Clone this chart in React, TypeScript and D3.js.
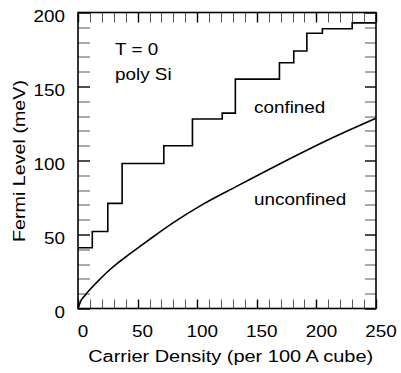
import { useEffect, useRef } from 'react';
import * as d3 from 'd3';

// carrier density (per 100 A cube) where each confined level starts
const stepDensity = [0, 12, 25, 37, 72, 96, 121, 132, 169, 181, 192, 205, 230, 250];
// confined Fermi level (meV) for each step
const stepLevel = [41, 52, 71, 98, 110, 128, 132, 155, 166, 174, 186, 189, 193, 193];

// unconfined curve
const freeDensity = [0, 2, 6, 12, 18, 25, 33, 42, 52, 64, 80, 105, 133, 170, 210, 250];
const freeLevel = [0, 4.5, 9, 14.5, 19.5, 25, 30.5, 36, 42, 49, 58, 70.5, 82.5, 98, 114, 128.5];

const xTicks = [0, 50, 100, 150, 200, 250];
const yTicks = [0, 50, 100, 150, 200];

const width = 401;
const height = 373;
const margin = { top: 12.5, right: 25, bottom: 64.5, left: 78 };
const font = 'Liberation Sans, Arial, Helvetica, sans-serif';
const stretch = 1.18;

export default function App() {
  const svgRef = useRef<SVGSVGElement>(null);

  useEffect(() => {
    if (!svgRef.current) return;
    const svg = d3.select(svgRef.current);
    svg.selectAll('*').remove();

    const chartWidth = width - margin.left - margin.right;
    const chartHeight = height - margin.top - margin.bottom;

    const g = svg
      .append('g')
      .attr('transform', `translate(${margin.left},${margin.top})`);

    const xScale = d3.scaleLinear().domain([0, 250]).range([0, chartWidth]);
    const yScale = d3.scaleLinear().domain([0, 200]).range([chartHeight, 0]);

    // minor / major ticks on all four sides
    const xMinor = d3.range(0, 251, 10);
    const yMinor = d3.range(0, 201, 10);
    const tickStyle = (v: number) => (v % 50 === 0 ? ['#000', 1.4] : ['#555', 1]);

    xMinor.forEach((v) => {
      const [c, w] = tickStyle(v);
      const x = Math.round(xScale(v)) + 0.5;
      g.append('line').attr('x1', x).attr('x2', x).attr('y1', chartHeight).attr('y2', chartHeight - 9)
        .attr('stroke', c).attr('stroke-width', w);
      g.append('line').attr('x1', x).attr('x2', x).attr('y1', 0).attr('y2', 10)
        .attr('stroke', c).attr('stroke-width', w);
    });
    yMinor.forEach((v) => {
      const [c, w] = tickStyle(v);
      const y = Math.round(yScale(v)) + 0.5;
      g.append('line').attr('x1', 0).attr('x2', 12).attr('y1', y).attr('y2', y)
        .attr('stroke', c).attr('stroke-width', w);
      g.append('line').attr('x1', chartWidth - 11).attr('x2', chartWidth).attr('y1', y).attr('y2', y)
        .attr('stroke', c).attr('stroke-width', w);
    });

    // frame
    g.append('rect')
      .attr('x', 0)
      .attr('y', 0)
      .attr('width', chartWidth)
      .attr('height', chartHeight)
      .attr('fill', 'none')
      .attr('stroke', '#000')
      .attr('stroke-width', 1.6);

    // confined staircase
    const steps = stepDensity.map((n, i) => [n, stepLevel[i]] as [number, number]);
    const stepLine = d3
      .line<[number, number]>()
      .x((d) => xScale(d[0]))
      .y((d) => yScale(d[1]))
      .curve(d3.curveStepAfter);
    g.append('path')
      .datum(steps)
      .attr('fill', 'none')
      .attr('stroke', '#000')
      .attr('stroke-width', 1.6)
      .attr('d', stepLine);

    // unconfined curve
    const free = freeDensity.map((n, i) => [n, freeLevel[i]] as [number, number]);
    const freeLine = d3
      .line<[number, number]>()
      .x((d) => xScale(d[0]))
      .y((d) => yScale(d[1]))
      .curve(d3.curveMonotoneX);
    g.append('path')
      .datum(free)
      .attr('fill', 'none')
      .attr('stroke', '#000')
      .attr('stroke-width', 1.6)
      .attr('d', freeLine);

    const label = (x: number, y: number, text: string, anchor = 'start') =>
      svg
        .append('text')
        .attr('transform', `translate(${x},${y}) scale(${stretch},1)`)
        .attr('text-anchor', anchor)
        .attr('font-family', font)
        .attr('font-size', 16)
        .attr('fill', '#000')
        .text(text);

    // tick labels
    xTicks.forEach((v) => label(margin.left + xScale(v) + 5, 337, String(v), 'middle'));
    yTicks.forEach((v) => label(65, margin.top + yScale(v) + 9.5, String(v), 'end'));

    // annotations
    label(115, 55, 'T = 0');
    label(115, 80, 'poly Si');
    label(254, 113, 'confined');
    label(254, 205, 'unconfined');

    // axis titles
    svg
      .append('text')
      .attr('x', 230.7)
      .attr('y', 361.5)
      .attr('text-anchor', 'middle')
      .attr('font-family', font)
      .attr('font-size', 16)
      .attr('textLength', 285)
      .attr('lengthAdjust', 'spacingAndGlyphs')
      .text('Carrier Density (per 100 A cube)');

    svg
      .append('text')
      .attr('transform', 'translate(25,161) rotate(-90)')
      .attr('text-anchor', 'middle')
      .attr('font-family', font)
      .attr('font-size', 16)
      .attr('textLength', 162)
      .attr('lengthAdjust', 'spacingAndGlyphs')
      .text('Fermi Level (meV)');
  }, []);

  return (
    <svg
      ref={svgRef}
      width={width}
      height={height}
      style={{ position: 'absolute', left: 0, top: 0, background: '#fff' }}
    />
  );
}
